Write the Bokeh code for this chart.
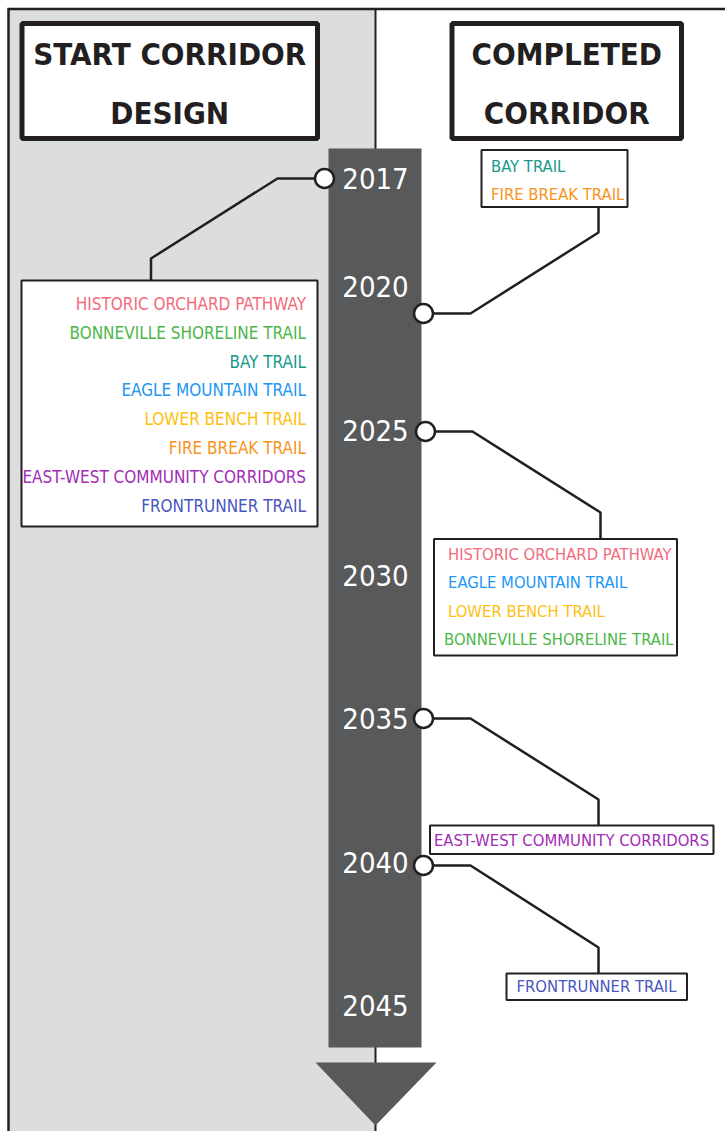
from bokeh.plotting import figure
from bokeh.models import Range1d
from bokeh.embed import file_html
from bokeh.resources import INLINE
from bokeh.core.properties import value

# ---------------- data ----------------
years = ["2017", "2020", "2025", "2030", "2035", "2040", "2045"]

trails = ["HISTORIC ORCHARD PATHWAY", "BONNEVILLE SHORELINE TRAIL", "BAY TRAIL",
          "EAGLE MOUNTAIN TRAIL", "LOWER BENCH TRAIL", "FIRE BREAK TRAIL",
          "EAST-WEST COMMUNITY CORRIDORS", "FRONTRUNNER TRAIL"]
trail_colors = ["#f26b7b", "#4cb748", "#17998b", "#2196f3",
                "#fdc010", "#f7941d", "#a22cb5", "#4a56c0"]

start_year = "2017"
start_trails = trails[:]  # all corridor designs start in 2017

completed_years = ["2020", "2025", "2035", "2040"]
completed_trails = [
    ["BAY TRAIL", "FIRE BREAK TRAIL"],
    ["HISTORIC ORCHARD PATHWAY", "EAGLE MOUNTAIN TRAIL", "LOWER BENCH TRAIL",
     "BONNEVILLE SHORELINE TRAIL"],
    ["EAST-WEST COMMUNITY CORRIDORS"],
    ["FRONTRUNNER TRAIL"],
]

headers = [["START CORRIDOR", "DESIGN"], ["COMPLETED", "CORRIDOR"]]

# ---------------- layout (screen-like coordinates) ----------------
color_of = dict(zip(trails, trail_colors))
INK = "#231f20"
FONT = value("DejaVu Sans Condensed")

year_y = [178, 286, 430, 575, 718, 862, 1005]
bar = dict(left=328, right=421, top=148, bottom=1047)
axis_x = 375

p = figure(width=725, height=1131, output_backend="svg", toolbar_location=None,
           x_range=Range1d(0, 725), y_range=Range1d(1131, 0),
           min_border=0, background_fill_color="white", border_fill_color="white")
p.axis.visible = False
p.grid.visible = False
p.outline_line_color = None

# left shaded panel and frame lines
p.quad(left=8, right=axis_x, top=8, bottom=1131, fill_color="#dcdddf", line_color=None)
p.line([axis_x, axis_x], [8, 1131], line_color=INK, line_width=2)
p.line([8, 8], [8, 1131], line_color=INK, line_width=2.5)
p.line([7, 725], [8.5, 8.5], line_color=INK, line_width=2.5)

# header boxes
hdr_boxes = [(21.5, 317, 23, 138), (451.5, 681, 23, 138)]
for (l, r, t, b), lines in zip(hdr_boxes, headers):
    p.quad(left=l, right=r, top=t, bottom=b, fill_color="white",
           line_color=INK, line_width=5)
    cx = (l + r) / 2
    p.text(x=[cx, cx], y=[53, 112], text=lines, text_font=FONT,
           text_font_style="bold", text_font_size="31px", text_color=INK,
           text_align="center", text_baseline="middle")

# timeline bar + arrow
p.quad(**bar, fill_color="#58595b", line_color=None)
p.patch([315, 436, 375], [1062, 1062, 1125], fill_color="#58595b", line_color=None)
p.text(x=[axis_x] * len(years), y=year_y, text=years, text_font=FONT,
       text_font_size="29px", text_color="white", text_align="center",
       text_baseline="middle")

# start box (left)
sb = dict(left=21, right=317, top=280, bottom=526)
p.quad(**sb, fill_color="white", line_color=INK, line_width=2)
row0, dy = 303.5, 28.8
p.text(x=[305.5] * len(start_trails), y=[row0 + i * dy for i in range(len(start_trails))],
       text=start_trails, text_color=[color_of[t] for t in start_trails],
       text_font=FONT, text_font_size="17px", text_align="right",
       text_baseline="middle")

# completed boxes (right)
cboxes = [
    dict(left=481, right=627, top=149.5, bottom=206.5, tx=490.5, ty=[165.5, 193.5], align="left"),
    dict(left=433.5, right=676.5, top=538.5, bottom=655, tx=447.5,
         ty=[553.5, 582.3, 610.8, 639.3], align="left"),
    dict(left=429.5, right=713, top=825, bottom=853.5, tx=571, ty=[840], align="center"),
    dict(left=506, right=686.5, top=973, bottom=999.5, tx=596, ty=[986], align="center"),
]
for bx, names in zip(cboxes, completed_trails):
    p.quad(left=bx["left"], right=bx["right"], top=bx["top"], bottom=bx["bottom"],
           fill_color="white", line_color=INK, line_width=2)
    xs = [bx["tx"]] * len(names)
    if len(names) == 4:
        xs[3] = bx["tx"] - 4
    p.text(x=xs, y=bx["ty"], text=names, text_color=[color_of[t] for t in names],
           text_font=FONT, text_font_size="16.5px", text_align=bx["align"],
           text_baseline="middle")

# connectors (circle -> elbow -> box)
conn_xs = [
    [324, 277, 150.5, 150.5],
    [423, 470, 598, 598],
    [425, 472, 600, 600],
    [423, 470, 598, 598],
    [423, 470, 598, 598],
]
conn_ys = [
    [178, 178, 258, 280],
    [313, 313, 232, 206.5],
    [431, 431, 512, 538.5],
    [718, 718, 799, 825],
    [865, 865, 947, 973],
]
p.multi_line(conn_xs, conn_ys, line_color=INK, line_width=2.5)
p.scatter(x=[c[0] for c in conn_xs], y=[c[0] for c in conn_ys], size=19,
          marker="circle", fill_color="white", line_color=INK, line_width=2.5)

open("out.html", "w").write(file_html(p, INLINE))
